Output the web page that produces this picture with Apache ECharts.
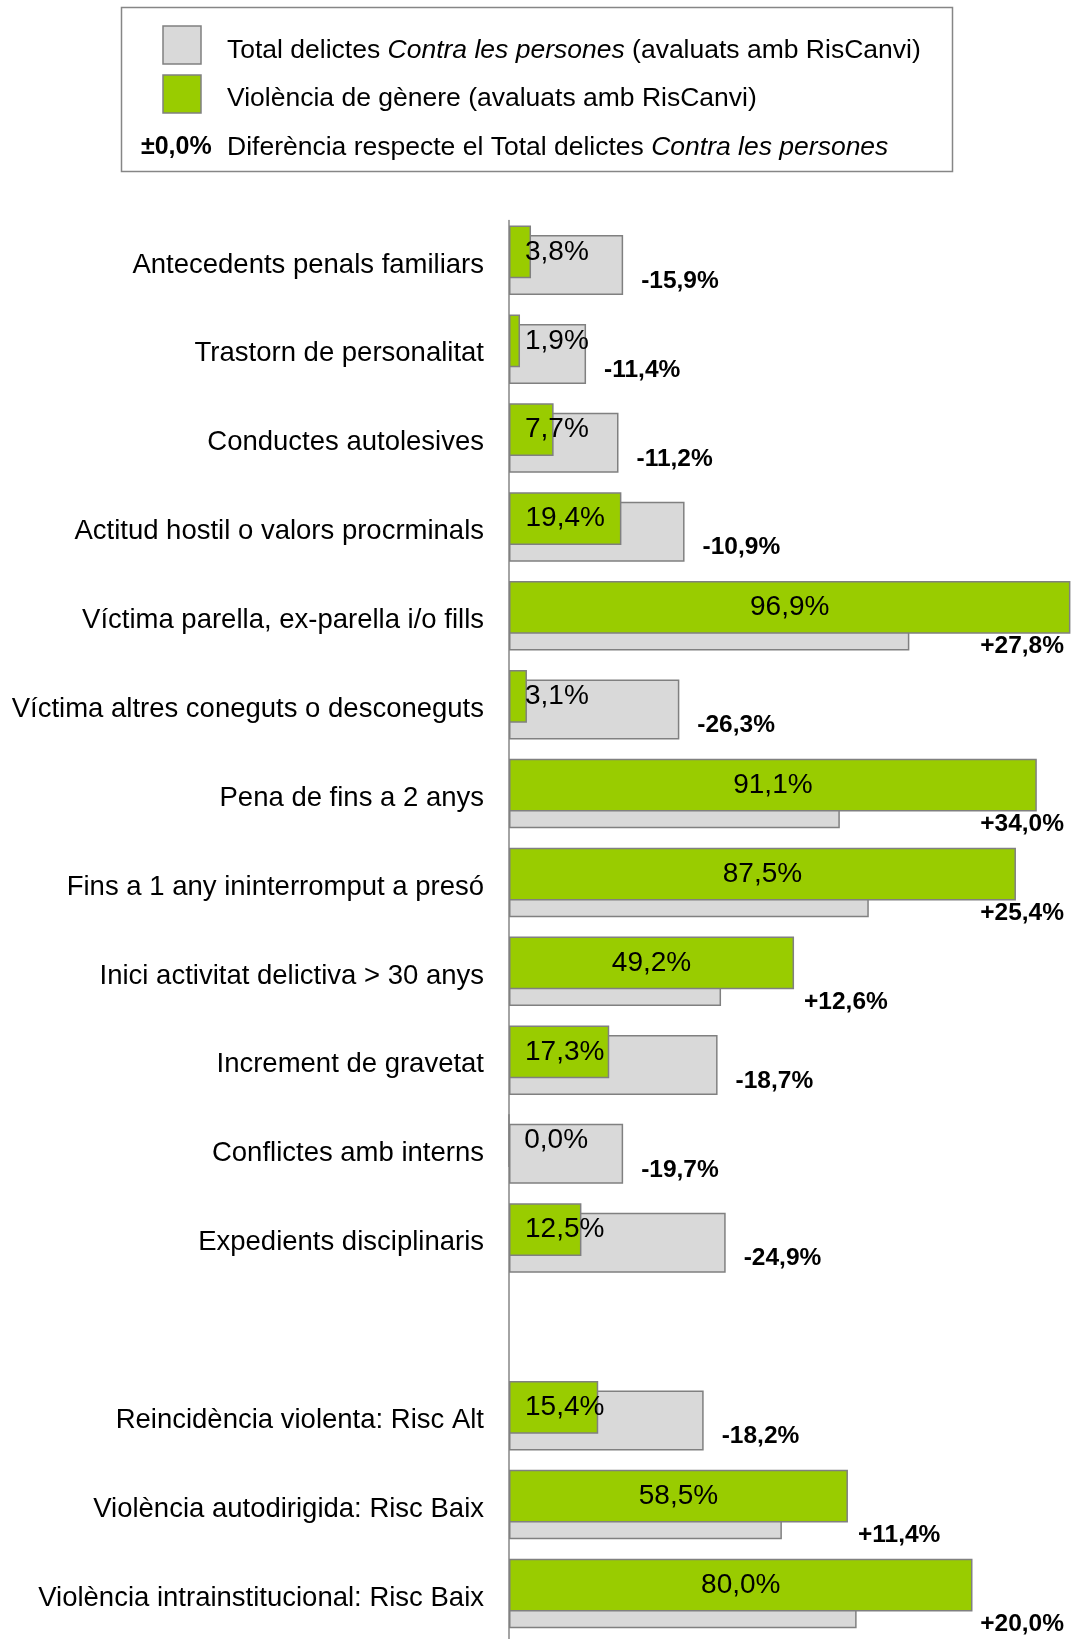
<!DOCTYPE html>
<html>
<head>
<meta charset="utf-8">
<title>RisCanvi - Violència de gènere</title>
<script src="https://cdn.jsdelivr.net/npm/echarts@6/dist/echarts.min.js"></script>
<style>
	html, body { margin: 0; padding: 0; background: #fff; }
	#mainChart { width: 1078px; height: 1639px; }
</style>
</head>
<body>
<div id="mainChart"></div>
<script>
	var categories = [
		'Antecedents penals familiars',
		'Trastorn de personalitat',
		'Conductes autolesives',
		'Actitud hostil o valors procrminals',
		'Víctima parella, ex-parella i/o fills',
		'Víctima altres coneguts o desconeguts',
		'Pena de fins a 2 anys',
		'Fins a 1 any ininterromput a presó',
		'Inici activitat delictiva > 30 anys',
		'Increment de gravetat',
		'Conflictes amb interns',
		'Expedients disciplinaris',
		'',
		'Reincidència violenta: Risc Alt',
		'Violència autodirigida: Risc Baix',
		'Violència intrainstitucional: Risc Baix'
	];
	// Violència de gènere (avaluats amb RisCanvi), %
	var generoValues = [3.8, 1.9, 7.7, 19.4, 96.9, 3.1, 91.1, 87.5, 49.2, 17.3, 0.0, 12.5, null, 15.4, 58.5, 80.0];
	// Total delictes Contra les persones (avaluats amb RisCanvi), %
	var totalValues = [19.7, 13.3, 18.9, 30.3, 69.1, 29.4, 57.1, 62.1, 36.6, 36.0, 19.7, 37.4, null, 33.6, 47.1, 60.0];
	// diferència respecte el total, punts
	var diffValues = [-15.9, -11.4, -11.2, -10.9, 27.8, -26.3, 34.0, 25.4, 12.6, -18.7, -19.7, -24.9, null, -18.2, 11.4, 20.0];

	var FONT = '"Liberation Sans", Arial, sans-serif';
	var GREEN = '#99cc00';
	var GRAY = '#d9d9d9';
	var EDGE = '#808080';
	var LEG_SIZE = 26.5;

	function pct(v) {
		return v.toFixed(1).replace('.', ',') + '%';
	}

	var greenData = generoValues.map(function (v) {
		if (v == null) return '-';
		// petites: etiqueta a la base, grans: centrada
		return {
			value: v,
			label: v < 19 ? { position: 'insideLeft', distance: 16 } : { position: 'inside' }
		};
	});

	// ancoratge de l'etiqueta de diferència: final de la barra més llarga
	var diffData = diffValues.map(function (d, i) {
		if (d == null) return '-';
		return Math.max(generoValues[i], totalValues[i]);
	});

	var mainChart = echarts.init(document.getElementById('mainChart'));

	var legendRich = {
		n: { fontSize: LEG_SIZE, fontFamily: FONT, fill: '#000' },
		i: { fontSize: LEG_SIZE, fontFamily: FONT, fontStyle: 'italic', fill: '#000' }
	};

	var options = {
		animation: false,
		textStyle: { fontFamily: FONT },
		grid: [
			{ left: 509, right: 7, top: 220.6, height: 1422, outerBoundsMode: 'none' },
			{ left: 509, right: 7, top: 207.5, height: 1422, outerBoundsMode: 'none' }
		],
		xAxis: [
			{ type: 'value', gridIndex: 0, min: 0, max: 97, show: false },
			{ type: 'value', gridIndex: 1, min: 0, max: 97, show: false }
		],
		yAxis: [
			{
				type: 'category',
				gridIndex: 0,
				inverse: true,
				data: categories,
				axisLine: { lineStyle: { color: '#868686', width: 1.5 } },
				axisTick: { length: 8, lineStyle: { color: '#868686', width: 1.5 } },
				axisLabel: { fontSize: 27.5, color: '#000', margin: 25, fontFamily: FONT }
			},
			{ type: 'category', gridIndex: 1, inverse: true, data: categories, show: false }
		],
		graphic: [
			{
				type: 'rect',
				shape: { x: 121.5, y: 7.5, width: 831, height: 164 },
				style: { fill: 'none', stroke: '#868686', lineWidth: 1.5 }
			},
			{
				type: 'rect',
				shape: { x: 163, y: 26, width: 38, height: 38 },
				style: { fill: GRAY, stroke: EDGE, lineWidth: 1.5 }
			},
			{
				type: 'rect',
				shape: { x: 163, y: 75, width: 38, height: 38 },
				style: { fill: GREEN, stroke: EDGE, lineWidth: 1.5 }
			},
			{
				type: 'text',
				x: 227, y: 50.5,
				style: {
					text: '{n|Total delictes }{i|Contra les persones}{n| (avaluats amb RisCanvi)}',
					verticalAlign: 'middle',
					rich: legendRich
				}
			},
			{
				type: 'text',
				x: 227, y: 98.5,
				style: {
					text: 'Violència de gènere (avaluats amb RisCanvi)',
					verticalAlign: 'middle',
					fontSize: LEG_SIZE, fontFamily: FONT, fill: '#000'
				}
			},
			{
				type: 'text',
				x: 141, y: 147.5,
				style: {
					text: '±0,0%',
					verticalAlign: 'middle',
					fontSize: 25, fontWeight: 'bold', fontFamily: FONT, fill: '#000'
				}
			},
			{
				type: 'text',
				x: 227, y: 147.5,
				style: {
					text: '{n|Diferència respecte el Total delictes }{i|Contra les persones}',
					verticalAlign: 'middle',
					rich: legendRich
				}
			}
		],
		series: [
			{
				name: 'Total delictes Contra les persones (avaluats amb RisCanvi)',
				type: 'bar',
				xAxisIndex: 0,
				yAxisIndex: 0,
				data: totalValues.map(function (v) { return v == null ? '-' : v; }),
				barWidth: 60,
				barGap: '-100%',
				z: 2,
				itemStyle: { color: GRAY, borderColor: EDGE, borderWidth: 1.5 }
			},
			{
				name: 'diferencia',
				type: 'bar',
				xAxisIndex: 0,
				yAxisIndex: 0,
				data: diffData,
				barWidth: 60,
				barGap: '-100%',
				z: 4,
				silent: true,
				itemStyle: { color: 'rgba(0,0,0,0)', borderWidth: 0 },
				label: {
					show: true,
					position: 'right',
					distance: 0,
					fontSize: 24.5,
					fontWeight: 'bold',
					color: '#000',
					fontFamily: FONT,
					formatter: function (p) {
						var d = diffValues[p.dataIndex];
						return (d > 0 ? '+' : '') + pct(d);
					}
				},
				labelLayout: function (p) {
					var d = diffValues[p.dataIndex];
					var dx = d > 0 ? 10 : 18;
					var dy = d > 0 ? 26 : 16;
					var over = p.labelRect.x + dx + p.labelRect.width - (mainChart.getWidth() - 14);
					if (over > 0) dx -= over;
					return { dx: dx, dy: dy };
				}
			},
			{
				name: 'Violència de gènere (avaluats amb RisCanvi)',
				type: 'bar',
				xAxisIndex: 1,
				yAxisIndex: 1,
				data: greenData,
				barWidth: 52.7,
				z: 3,
				itemStyle: { color: GREEN, borderColor: EDGE, borderWidth: 1.5 },
				label: {
					show: true,
					fontSize: 28,
					color: '#000',
					fontFamily: FONT,
					formatter: function (p) { return pct(p.value); }
				}
			}
		]
	};

	mainChart.setOption(options);

	window.onresize = function () {
		mainChart.resize();
	};
</script>
</body>
</html>
